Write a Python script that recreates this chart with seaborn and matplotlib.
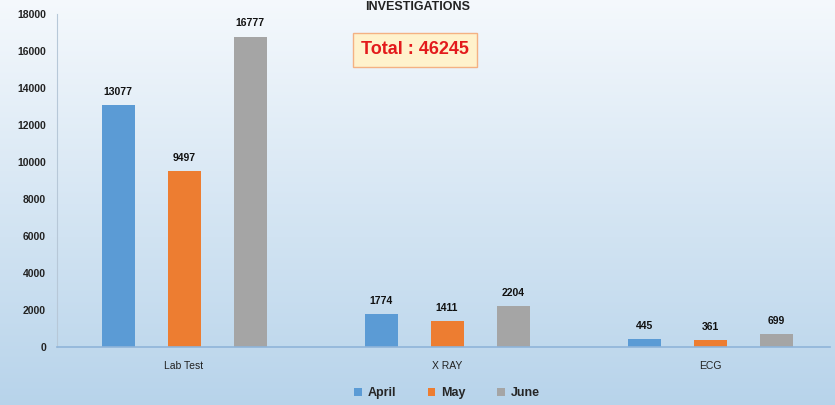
import numpy as np
import pandas as pd
import matplotlib
matplotlib.use("Agg")
import matplotlib.pyplot as plt
import seaborn as sns

# data
categories = ["Lab Test", "X RAY", "ECG"]
months = ["April", "May", "June"]
april = [13077, 1774, 445]
may = [9497, 1411, 361]
june = [16777, 2204, 699]
total = 46245

colors = ["#5b9bd5", "#ed7d31", "#a5a5a5"]

df = pd.DataFrame({
    "category": categories * 3,
    "month": [m for m in months for _ in categories],
    "value": april + may + june,
})

sns.set_style("white")
plt.rcParams["font.family"] = ["Liberation Sans", "DejaVu Sans"]

fig = plt.figure(figsize=(8.35, 4.05), dpi=100)

# gradient background
bg = fig.add_axes([0, 0, 1, 1], zorder=-10)
top = np.array([0.96, 0.975, 0.99])
bot = np.array([0.72, 0.83, 0.92])
t = np.linspace(0, 1, 256)[:, None]
grad = top[None, :] * (1 - t) + bot[None, :] * t
bg.imshow(grad[:, None, :], aspect="auto", extent=[0, 1, 0, 1])
bg.axis("off")

ax = fig.add_axes([57 / 835, 0.143, 773 / 835, 0.822])
ax.patch.set_alpha(0)
sns.barplot(data=df, x="category", y="value", hue="month", palette=colors,
            width=0.753, gap=0.5, saturation=1, linewidth=0, ax=ax, legend=True)

for cont in ax.containers:
    ax.bar_label(cont, fmt="%d", padding=6, fontsize=7.5, fontweight="bold", color="#111111")

ax.set_xlim(-0.483, 2.456)
ax.set_ylim(0, 18000)
ax.set_yticks(range(0, 18001, 2000))
ax.set_xlabel("")
ax.set_ylabel("")
ax.tick_params(axis="y", labelsize=7.5, length=0, pad=8, colors="#222222")
ax.tick_params(axis="x", labelsize=7.5, length=0, pad=10, colors="#222222")
for lab in ax.get_yticklabels():
    lab.set_fontweight("bold")
for side in ["top", "right"]:
    ax.spines[side].set_visible(False)
ax.spines["left"].set_color("#b7c8d8")
ax.spines["left"].set_linewidth(0.8)
ax.spines["bottom"].set_color("#8fb4d9")
ax.spines["bottom"].set_linewidth(1.2)

leg = ax.legend(loc="center", bbox_to_anchor=(447 / 835, 12 / 405), bbox_transform=fig.transFigure,
                ncol=3, frameon=False, handlelength=0.6, handleheight=0.6, columnspacing=2.5,
                handletextpad=0.5, prop={"weight": "bold", "size": 9})

fig.text(0.5, 0.997, "INVESTIGATIONS", ha="center", va="top", fontsize=9,
         fontweight="bold", color="#222222")

fig.text(415 / 835, 1 - 50 / 405, f"Total : {total}",
         ha="center", va="center", fontsize=13, fontweight="bold", color="#e31a1c",
         bbox=dict(boxstyle="square,pad=0.45", facecolor="#fff2cc", edgecolor="#f4b183", linewidth=1))

fig.savefig("out.png", dpi=100)
